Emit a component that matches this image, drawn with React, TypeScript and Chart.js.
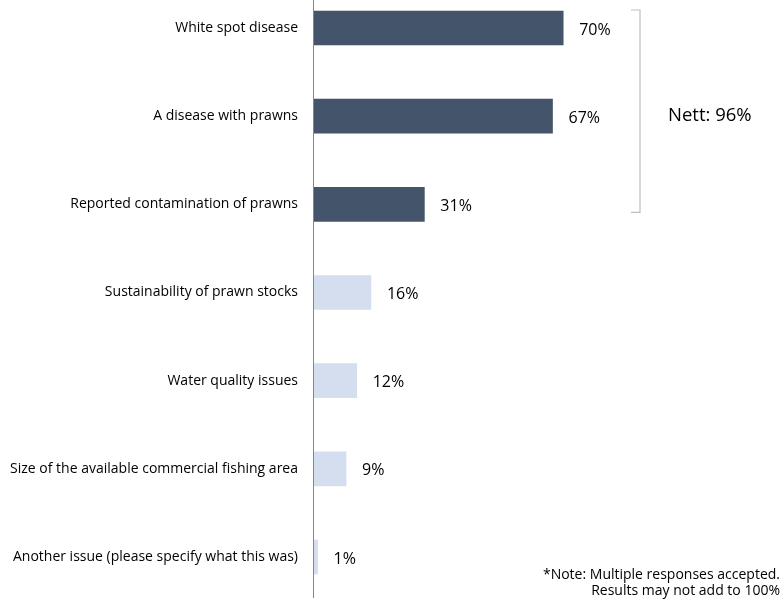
import React, { useEffect, useRef } from "react";
import { Chart, registerables } from "chart.js";

Chart.register(...registerables);

const categories = [
  "White spot disease",
  "A disease with prawns",
  "Reported contamination of prawns",
  "Sustainability of prawn stocks",
  "Water quality issues",
  "Size of the available commercial fishing area",
  "Another issue (please specify what this was)",
];
const values = [70, 67, 31, 16, 12, 9, 1];
const highlighted = [true, true, true, false, false, false, false];
const nettLabel = "Nett: 96%";
const noteLines = ["*Note: Multiple responses accepted.", "Results may not add to 100%"];

const DARK = "#44546A";
const LIGHT = "#D5DEEF";
const FONT = "'Open Sans', 'Liberation Sans', sans-serif";

const overlayPlugin = {
  id: "overlay",
  afterDatasetsDraw(chart: any) {
    const ctx = chart.ctx;
    const x = chart.scales.x;
    const y = chart.scales.y;
    const x0 = x.getPixelForValue(0);
    ctx.save();
    // axis line
    ctx.strokeStyle = "#868686";
    ctx.lineWidth = 1;
    ctx.beginPath();
    ctx.moveTo(Math.round(x0) - 0.5, 0);
    ctx.lineTo(Math.round(x0) - 0.5, 598);
    ctx.stroke();
    // value labels
    ctx.fillStyle = "#000";
    ctx.font = `16px ${FONT}`;
    ctx.textBaseline = "middle";
    ctx.textAlign = "left";
    values.forEach((v, i) => {
      const px = x.getPixelForValue(v);
      const py = y.getPixelForValue(i);
      ctx.fillText(`${v}%`, px + 16, py + 2);
    });
    // bracket
    const top = y.getPixelForValue(0) - 18;
    const bot = y.getPixelForValue(2) + 8;
    ctx.strokeStyle = "#BFBFBF";
    ctx.lineWidth = 1.2;
    ctx.beginPath();
    ctx.moveTo(631, top);
    ctx.lineTo(640, top);
    ctx.lineTo(640, bot);
    ctx.lineTo(631, bot);
    ctx.stroke();
    ctx.fillStyle = "#000";
    ctx.font = `18.5px ${FONT}`;
    ctx.fillText(nettLabel, 668, y.getPixelForValue(1));
    // notes
    ctx.font = `14px ${FONT}`;
    ctx.textAlign = "right";
    ctx.fillText(noteLines[0], 780, 575);
    ctx.fillText(noteLines[1], 780, 591);
    ctx.restore();
  },
};

export default function App() {
  const ref = useRef<HTMLCanvasElement>(null);
  useEffect(() => {
    const chart = new Chart(ref.current!, {
      type: "bar",
      data: {
        labels: categories,
        datasets: [
          {
            data: values,
            backgroundColor: highlighted.map((h) => (h ? DARK : LIGHT)),
            barThickness: 34,
            clip: false as any,
          },
        ],
      },
      options: {
        indexAxis: "y",
        animation: false,
        responsive: false,
        maintainAspectRatio: false,
        layout: { padding: { top: 28, bottom: 44, right: 114, left: 0 } },
        plugins: { legend: { display: false }, tooltip: { enabled: false } },
        scales: {
          x: { display: false, min: 0, max: 100 },
          y: {
            offset: false,
            grid: { display: false },
            border: { display: false },
            ticks: {
              color: "#000",
              padding: 8,
              font: { family: FONT, size: 14 },
            },
            afterFit: (scale: any) => {
              scale.width = 314;
            },
          },
        },
      },
      plugins: [overlayPlugin],
    });
    return () => chart.destroy();
  }, []);
  return (
    <div style={{ position: "absolute", left: 0, top: 0, width: 784, height: 601, background: "#fff" }}>
      <canvas ref={ref} width={784} height={601} style={{ display: "block" }} />
    </div>
  );
}
